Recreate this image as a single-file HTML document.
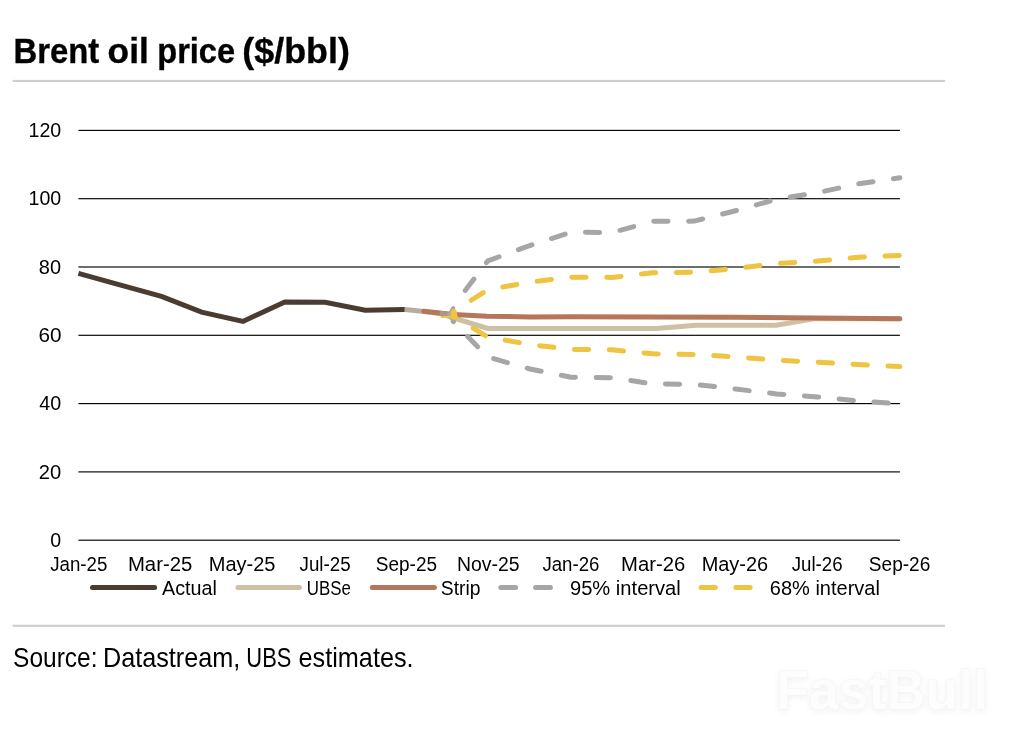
<!DOCTYPE html>
<html lang="en"><head><meta charset="utf-8"><title>Brent oil price ($/bbl)</title>
<style>
html,body{margin:0;padding:0;background:#fff;}
body{width:1022px;height:746px;overflow:hidden;font-family:"Liberation Sans",sans-serif;}
svg{display:block;}
text{font-family:"Liberation Sans",sans-serif;fill:#000;}
.ax{font-size:20.5px;}
.ttl{font-size:34.6px;font-weight:bold;fill:#000;stroke:#000;stroke-width:0.35px;}
.src{font-size:27.8px;}
.ln{fill:none;stroke-linejoin:round;stroke-linecap:round;}
</style></head><body>
<svg width="1022" height="746" viewBox="0 0 1022 746">
<rect width="1022" height="746" fill="#fff"/>
<text class="ttl" y="62.5"><tspan x="13.48" textLength="85.72" lengthAdjust="spacingAndGlyphs">Brent</tspan> <tspan x="107.62" textLength="41.18" lengthAdjust="spacingAndGlyphs">oil</tspan> <tspan x="157.29" textLength="77.78" lengthAdjust="spacingAndGlyphs">price</tspan> <tspan x="242.32" textLength="107.51" lengthAdjust="spacingAndGlyphs">($/bbl)</tspan></text>
<rect x="12.6" y="79.9" width="932.4" height="2.1" fill="#cfcfcf"/>
<rect x="78.4" y="539.63" width="821.5" height="1.14" fill="#000"/>
<rect x="78.4" y="471.33" width="821.5" height="1.14" fill="#000"/>
<rect x="78.4" y="403.03" width="821.5" height="1.14" fill="#000"/>
<rect x="78.4" y="334.73" width="821.5" height="1.14" fill="#000"/>
<rect x="78.4" y="266.43" width="821.5" height="1.14" fill="#000"/>
<rect x="78.4" y="198.13" width="821.5" height="1.14" fill="#000"/>
<rect x="78.4" y="129.83" width="821.5" height="1.14" fill="#000"/>
<g class="ax">
<text x="50.28" y="546.9" textLength="10.90" lengthAdjust="spacingAndGlyphs">0</text>
<text x="38.69" y="478.6" textLength="22.45" lengthAdjust="spacingAndGlyphs">20</text>
<text x="39.21" y="410.3" textLength="21.89" lengthAdjust="spacingAndGlyphs">40</text>
<text x="38.47" y="342.0" textLength="23.06" lengthAdjust="spacingAndGlyphs">60</text>
<text x="38.82" y="273.7" textLength="22.24" lengthAdjust="spacingAndGlyphs">80</text>
<text x="28.52" y="205.4" textLength="32.76" lengthAdjust="spacingAndGlyphs">100</text>
<text x="28.52" y="137.1" textLength="32.76" lengthAdjust="spacingAndGlyphs">120</text>
</g>
<g class="ax">
<text x="50.13" y="571.0" textLength="57.20" lengthAdjust="spacingAndGlyphs">Jan-25</text>
<text x="127.89" y="571.0" textLength="64.44" lengthAdjust="spacingAndGlyphs">Mar-25</text>
<text x="208.74" y="571.0" textLength="66.78" lengthAdjust="spacingAndGlyphs">May-25</text>
<text x="299.55" y="571.0" textLength="51.07" lengthAdjust="spacingAndGlyphs">Jul-25</text>
<text x="375.83" y="571.0" textLength="61.25" lengthAdjust="spacingAndGlyphs">Sep-25</text>
<text x="457.00" y="571.0" textLength="62.63" lengthAdjust="spacingAndGlyphs">Nov-25</text>
<text x="542.44" y="571.0" textLength="57.00" lengthAdjust="spacingAndGlyphs">Jan-26</text>
<text x="621.03" y="571.0" textLength="64.18" lengthAdjust="spacingAndGlyphs">Mar-26</text>
<text x="701.67" y="571.0" textLength="66.51" lengthAdjust="spacingAndGlyphs">May-26</text>
<text x="791.75" y="571.0" textLength="50.80" lengthAdjust="spacingAndGlyphs">Jul-26</text>
<text x="868.83" y="571.0" textLength="61.48" lengthAdjust="spacingAndGlyphs">Sep-26</text>
</g>
<polyline class="ln" style="stroke-linecap:butt;stroke-linejoin:miter" stroke="#4a3c32" stroke-width="5.0" points="78.4,273.3 119.8,284.8 161.5,296.4 201.6,312.2 243.0,321.4 284.8,301.9 325.1,302.2 365.2,310.2 404.8,309.4"/>
<polyline class="ln" stroke="#cdc0a5" stroke-width="5.0" points="424.0,311.4 441.0,313.8 453.3,317.8 488.0,328.5 656.0,328.5 696.0,325.2 776.0,325.2 815.0,318.6 899.9,318.7"/>
<polyline class="ln" style="stroke-linecap:butt" stroke="#b8ad9d" stroke-width="5.0" points="404.8,309.4 424.0,311.4"/>
<polyline class="ln" stroke="#b6765c" stroke-width="5.0" points="423.8,311.3 453.3,314.4 487.0,316.3 530.0,316.9 571.0,316.7 653.0,317.0 735.0,317.2 817.0,318.0 899.9,318.7"/>
<g class="ln" stroke="#a6a6a6">
<line x1="441.5" y1="313.2" x2="448" y2="314.2" stroke-width="4.2" stroke-opacity="0.65"/>
<polyline points="449.6,314.5 453.2,308.3" stroke-width="4.2"/>
<polyline points="449.6,314.5 453.4,321" stroke-width="4.2"/>
</g>
<polyline class="ln" stroke="#a6a6a6" stroke-width="5.0" stroke-dasharray="14.3 20.6" stroke-dashoffset="15.28" points="453.3,306.0 487.8,260.9 530.0,245.5 571.0,232.2 612.0,232.5 653.0,221.3 694.0,221.1 735.5,210.8 776.5,199.2 817.5,192.7 858.6,183.8 899.9,177.8"/>
<polyline class="ln" stroke="#a6a6a6" stroke-width="5.0" stroke-dasharray="14.3 20.6" stroke-dashoffset="14.17" points="453.3,321.5 487.5,356.9 530.0,369.0 571.0,377.2 612.0,377.7 653.0,384.0 694.0,384.2 735.5,389.0 776.5,393.9 817.5,396.9 858.6,400.9 899.9,403.9"/>
<g class="ln" stroke="#eec442">
<line x1="441.5" y1="316.9" x2="451.5" y2="316.7" stroke-width="2"/>
<line x1="453.8" y1="313.2" x2="453.8" y2="316.4" stroke-width="6.6"/>
</g>
<polyline class="ln" stroke="#eec442" stroke-width="5.0" stroke-dasharray="14.3 20.6" stroke-dashoffset="13.88" points="453.5,311.6 487.5,289.8 530.0,282.2 571.0,277.2 612.0,277.4 653.0,272.8 694.0,272.3 735.5,268.5 776.5,263.5 817.5,261.0 858.6,257.3 899.9,255.4"/>
<polyline class="ln" stroke="#eec442" stroke-width="5.0" stroke-dasharray="14.3 20.6" stroke-dashoffset="11.82" points="453.5,316.0 487.5,337.0 530.0,344.5 571.0,349.4 612.0,349.8 653.0,353.8 694.0,354.4 735.5,356.9 776.5,360.1 817.5,362.1 858.6,364.6 899.9,366.6"/>
<g class="ln" stroke-width="5">
<line x1="92.5" y1="587.6" x2="154.6" y2="587.6" stroke="#4a3c32"/>
<line x1="237.9" y1="587.6" x2="299.4" y2="587.6" stroke="#cdc0a5"/>
<line x1="372.3" y1="587.6" x2="434.4" y2="587.6" stroke="#b6765c"/>
<line x1="500.8" y1="587.6" x2="515.6" y2="587.6" stroke="#a6a6a6"/>
<line x1="535.6" y1="587.6" x2="550.4" y2="587.6" stroke="#a6a6a6"/>
<line x1="701.1" y1="587.6" x2="715.3" y2="587.6" stroke="#eec442"/>
<line x1="735.9" y1="587.6" x2="750.1" y2="587.6" stroke="#eec442"/>
</g>
<g class="ax">
<text x="162.05" y="594.9" textLength="54.81" lengthAdjust="spacingAndGlyphs">Actual</text>
<text x="306.84" y="594.9" textLength="44.16" lengthAdjust="spacingAndGlyphs">UBSe</text>
<text x="440.83" y="594.9" textLength="39.67" lengthAdjust="spacingAndGlyphs">Strip</text>
<text x="569.98" y="594.9" textLength="110.83" lengthAdjust="spacingAndGlyphs">95% interval</text>
<text x="769.80" y="594.9" textLength="110.10" lengthAdjust="spacingAndGlyphs">68% interval</text>
</g>
<rect x="12.6" y="624.7" width="932.4" height="2.2" fill="#cfcfcf"/>
<text class="src" y="666.5"><tspan x="13.05" textLength="84.44" lengthAdjust="spacingAndGlyphs">Source:</tspan> <tspan x="102.94" textLength="137.30" lengthAdjust="spacingAndGlyphs">Datastream,</tspan> <tspan x="246.35" textLength="44.97" lengthAdjust="spacingAndGlyphs">UBS</tspan> <tspan x="298.50" textLength="115.11" lengthAdjust="spacingAndGlyphs">estimates.</tspan></text>
<text x="776" y="709" textLength="212" lengthAdjust="spacingAndGlyphs" style="font-size:56px;font-weight:bold;fill:#fdfdfd;stroke:#f3f3f3;stroke-width:1.2px;paint-order:stroke;filter:drop-shadow(0 2px 3px rgba(0,0,0,0.05));">FastBull</text>
</svg>
</body></html>
